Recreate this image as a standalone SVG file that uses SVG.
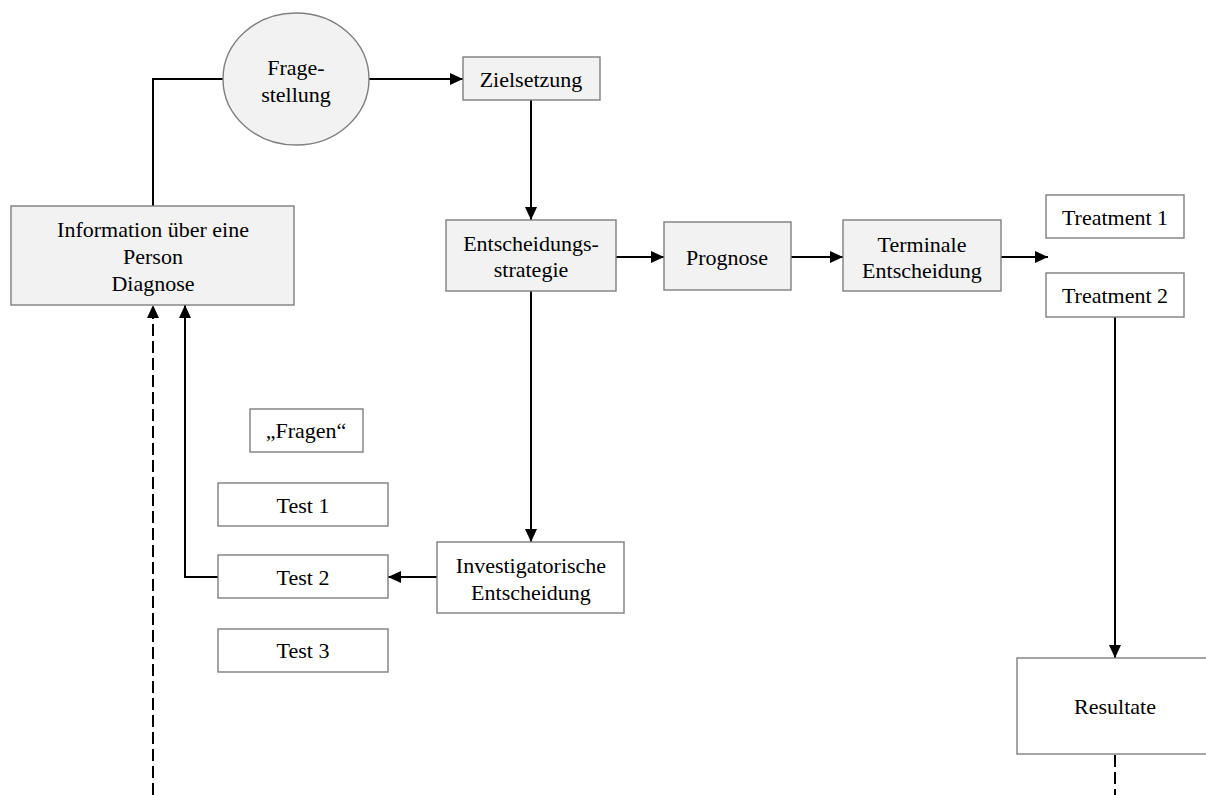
<svg xmlns="http://www.w3.org/2000/svg" width="1206" height="795" viewBox="0 0 1206 795">
  <style>
    .box { stroke: #7f7f7f; stroke-width: 1.4; }
    .grey { fill: #f2f2f2; }
    .white { fill: #ffffff; }
    .lbl { font-family: "Liberation Serif", "Times New Roman", serif; font-size: 22px; fill: #000; text-anchor: middle; }
    .wire { fill: none; stroke: #000; stroke-width: 2; }
    .dash { stroke-dasharray: 12 5; }
  </style>
  <defs>
    <marker id="arrow" markerUnits="userSpaceOnUse" markerWidth="13" markerHeight="12" refX="13" refY="6" orient="auto">
      <path d="M0,0 L13,6 L0,12 z" fill="#000"/>
    </marker>
  </defs>

  <rect width="1206" height="795" fill="#ffffff"/>

  <!-- connectors -->
  <g id="connectors">
    <polyline class="wire" points="153,206 153,79 223,79"/>
    <line class="wire" x1="369" y1="79" x2="463" y2="79" marker-end="url(#arrow)"/>
    <line class="wire" x1="531" y1="100" x2="531" y2="220" marker-end="url(#arrow)"/>
    <line class="wire" x1="616" y1="257" x2="664" y2="257" marker-end="url(#arrow)"/>
    <line class="wire" x1="791" y1="257" x2="843" y2="257" marker-end="url(#arrow)"/>
    <line class="wire" x1="1001" y1="257" x2="1048" y2="257" marker-end="url(#arrow)"/>
    <line class="wire" x1="1115" y1="317" x2="1115" y2="658" marker-end="url(#arrow)"/>
    <line class="wire dash" x1="1115" y1="755" x2="1115" y2="795"/>
    <line class="wire" x1="531" y1="291" x2="531" y2="542" marker-end="url(#arrow)"/>
    <line class="wire" x1="437" y1="577" x2="388" y2="577" marker-end="url(#arrow)"/>
    <polyline class="wire" points="218,577 185,577 185,305" marker-end="url(#arrow)"/>
    <line class="wire dash" x1="153" y1="795" x2="153" y2="305" marker-end="url(#arrow)"/>
  </g>

  <!-- nodes -->
  <g id="fragestellung">
    <ellipse class="box grey" cx="296" cy="79" rx="73" ry="66"/>
    <text class="lbl" x="296" y="75">Frage-</text>
    <text class="lbl" x="296" y="102">stellung</text>
  </g>
  <g id="zielsetzung">
    <rect class="box grey" x="463" y="57" width="137" height="43"/>
    <text class="lbl" x="531" y="87">Zielsetzung</text>
  </g>
  <g id="information">
    <rect class="box grey" x="11" y="206" width="283" height="99"/>
    <text class="lbl" x="153" y="237">Information über eine</text>
    <text class="lbl" x="153" y="264">Person</text>
    <text class="lbl" x="153" y="291">Diagnose</text>
  </g>
  <g id="entscheidungsstrategie">
    <rect class="box grey" x="446" y="220" width="170" height="71"/>
    <text class="lbl" x="531" y="251">Entscheidungs-</text>
    <text class="lbl" x="531" y="277">strategie</text>
  </g>
  <g id="prognose">
    <rect class="box grey" x="664" y="222" width="127" height="68"/>
    <text class="lbl" x="727" y="265">Prognose</text>
  </g>
  <g id="terminale">
    <rect class="box grey" x="843" y="220" width="158" height="71"/>
    <text class="lbl" x="922" y="252">Terminale</text>
    <text class="lbl" x="922" y="278">Entscheidung</text>
  </g>
  <g id="treatment1">
    <rect class="box white" x="1046" y="195" width="138" height="43"/>
    <text class="lbl" x="1115" y="225">Treatment 1</text>
  </g>
  <g id="treatment2">
    <rect class="box white" x="1046" y="273" width="138" height="44"/>
    <text class="lbl" x="1115" y="303">Treatment 2</text>
  </g>
  <g id="resultate">
    <rect class="box white" x="1017" y="658" width="196" height="96"/>
    <text class="lbl" x="1115" y="714">Resultate</text>
  </g>
  <g id="investigatorische">
    <rect class="box white" x="437" y="542" width="187" height="71"/>
    <text class="lbl" x="531" y="573">Investigatorische</text>
    <text class="lbl" x="531" y="600">Entscheidung</text>
  </g>
  <g id="fragen">
    <rect class="box white" x="250" y="409" width="113" height="43"/>
    <text class="lbl" x="306" y="438">„Fragen“</text>
  </g>
  <g id="test1">
    <rect class="box white" x="218" y="483" width="170" height="43"/>
    <text class="lbl" x="303" y="513">Test 1</text>
  </g>
  <g id="test2">
    <rect class="box white" x="218" y="555" width="170" height="43"/>
    <text class="lbl" x="303" y="585">Test 2</text>
  </g>
  <g id="test3">
    <rect class="box white" x="218" y="629" width="170" height="43"/>
    <text class="lbl" x="303" y="658">Test 3</text>
  </g>
</svg>
